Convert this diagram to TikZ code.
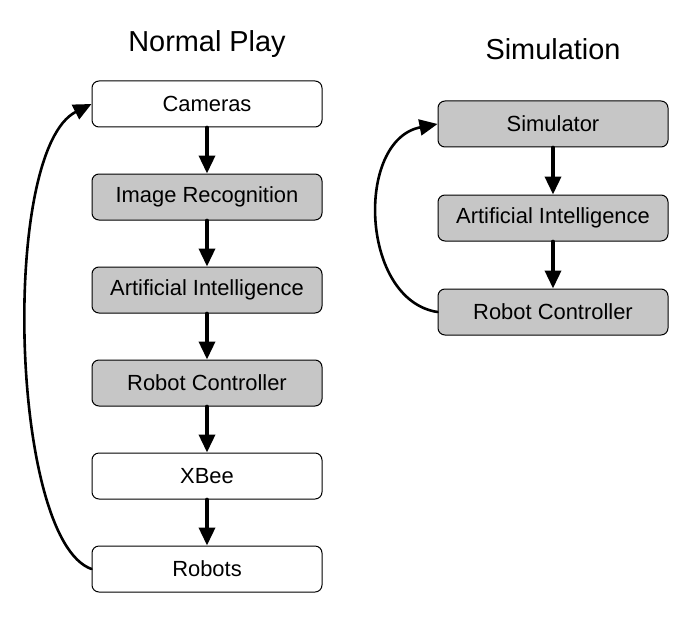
\documentclass[tikz,border=0pt]{standalone}
\usepackage{fontspec}
\setmainfont{Liberation Sans}
\usetikzlibrary{positioning,arrows.meta}

\begin{document}
\begin{tikzpicture}[x=1bp, y=-1bp, line cap=round, line join=round,
    stage/.style={draw, rounded corners=7bp, minimum width=230bp, minimum height=46bp,
                  font=\fontsize{22}{26}\selectfont, line width=1bp},
    soft/.style={stage, fill=gray!45},
    hard/.style={stage, fill=white},
    flow/.style={-{Triangle[length=18bp, width=16bp]}, line width=3.6bp},
    back/.style={-{Triangle[length=18bp, width=16bp]}, line width=2.6bp},
    title/.style={font=\fontsize{29}{33}\selectfont}]
    \useasboundingbox (0,0) rectangle (694,617);

    % normal play
    \node[title] (np) at (207,44) {Normal Play};
    \node[hard] (cam) at (207,104) {Cameras};
    \node[soft, below=46bp of cam]  (img) {Image Recognition};
    \node[soft, below=46bp of img]  (ai)  {Artificial Intelligence};
    \node[soft, below=46bp of ai]   (rc)  {Robot Controller};
    \node[hard, below=46bp of rc]   (xb)  {XBee};
    \node[hard, below=46bp of xb]   (rob) {Robots};

    \draw[flow] (cam) -- (img);
    \draw[flow] (img) -- (ai);
    \draw[flow] (ai) -- (rc);
    \draw[flow] (rc) -- (xb);
    \draw[flow] (xb) -- (rob);
    \draw[back] (rob.west) .. controls (10,540) and (0,150) .. (cam.west);

    % simulation
    \node[title] (sim) at (553,49) {Simulation};
    \node[soft] (sr) at (553,124) {Simulator};
    \node[soft, below=47bp of sr] (sai) {Artificial Intelligence};
    \node[soft, below=47bp of sai] (src) {Robot Controller};

    \draw[flow] (sr) -- (sai);
    \draw[flow] (sai) -- (src);
    \draw[back] (src.west) .. controls (360,300) and (355,140) .. (sr.west);
\end{tikzpicture}
\end{document}
